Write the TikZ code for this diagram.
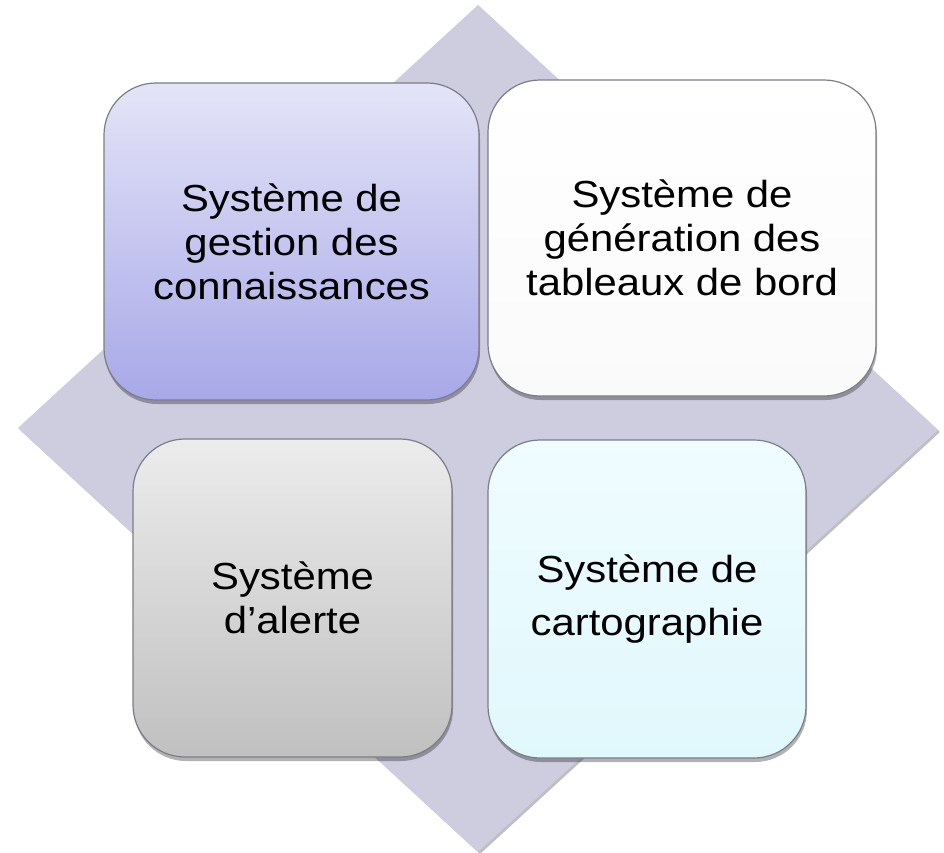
\documentclass[tikz,border=0pt]{standalone}
\usepackage{fontspec}
\newfontfamily\boxfont[FakeStretch=1.11]{Liberation Sans}
\usetikzlibrary{shadows}
\definecolor{diam}{RGB}{205,205,223}
\definecolor{cardline}{RGB}{125,125,135}
\definecolor{tltop}{RGB}{228,228,248}
\definecolor{tlbot}{RGB}{168,168,232}
\definecolor{trtop}{RGB}{255,255,255}
\definecolor{trbot}{RGB}{250,250,250}
\definecolor{bltop}{RGB}{236,236,236}
\definecolor{blbot}{RGB}{192,192,192}
\definecolor{brtop}{RGB}{240,252,255}
\definecolor{brbot}{RGB}{224,248,252}
\begin{document}
\begin{tikzpicture}[x=1pt,y=-1pt,
  card/.style={rectangle, rounded corners=52pt, draw=cardline, line width=1.2pt,
    inner sep=0pt, align=center, font={\boxfont\fontsize{37.7}{44}\selectfont},
    drop shadow={shadow xshift=1pt, shadow yshift=-4pt, opacity=0.3, fill=black}},
  backdiamond/.style={fill=diam, drop shadow={shadow xshift=2pt, shadow yshift=-2pt, opacity=0.25, fill=black}}
]
\useasboundingbox (0,0) rectangle (944,853);
\fill[white] (0,0) rectangle (944,853);
\path[backdiamond] (478,5) -- (938,430) -- (478,852) -- (18,428) -- cycle;
\node[card, minimum width=375pt, minimum height=317pt, top color=tltop, bottom color=tlbot]
  (gest) at (291.5,241.5) {Système de\\gestion des\\connaissances};
\node[card, minimum width=388pt, minimum height=316pt, top color=trtop, bottom color=trbot]
  (tabl) at (682,238) {Système de\\génération des\\tableaux de bord};
\node[card, minimum width=319pt, minimum height=318pt, top color=bltop, bottom color=blbot]
  (alert) at (292.5,598) {Système\\d’alerte};
\node[card, minimum width=318pt, minimum height=318pt, top color=brtop, bottom color=brbot,
  font={\boxfont\fontsize{37.7}{53}\selectfont}]
  (carto) at (647,599) {Système de\\cartographie};
\end{tikzpicture}
\end{document}
